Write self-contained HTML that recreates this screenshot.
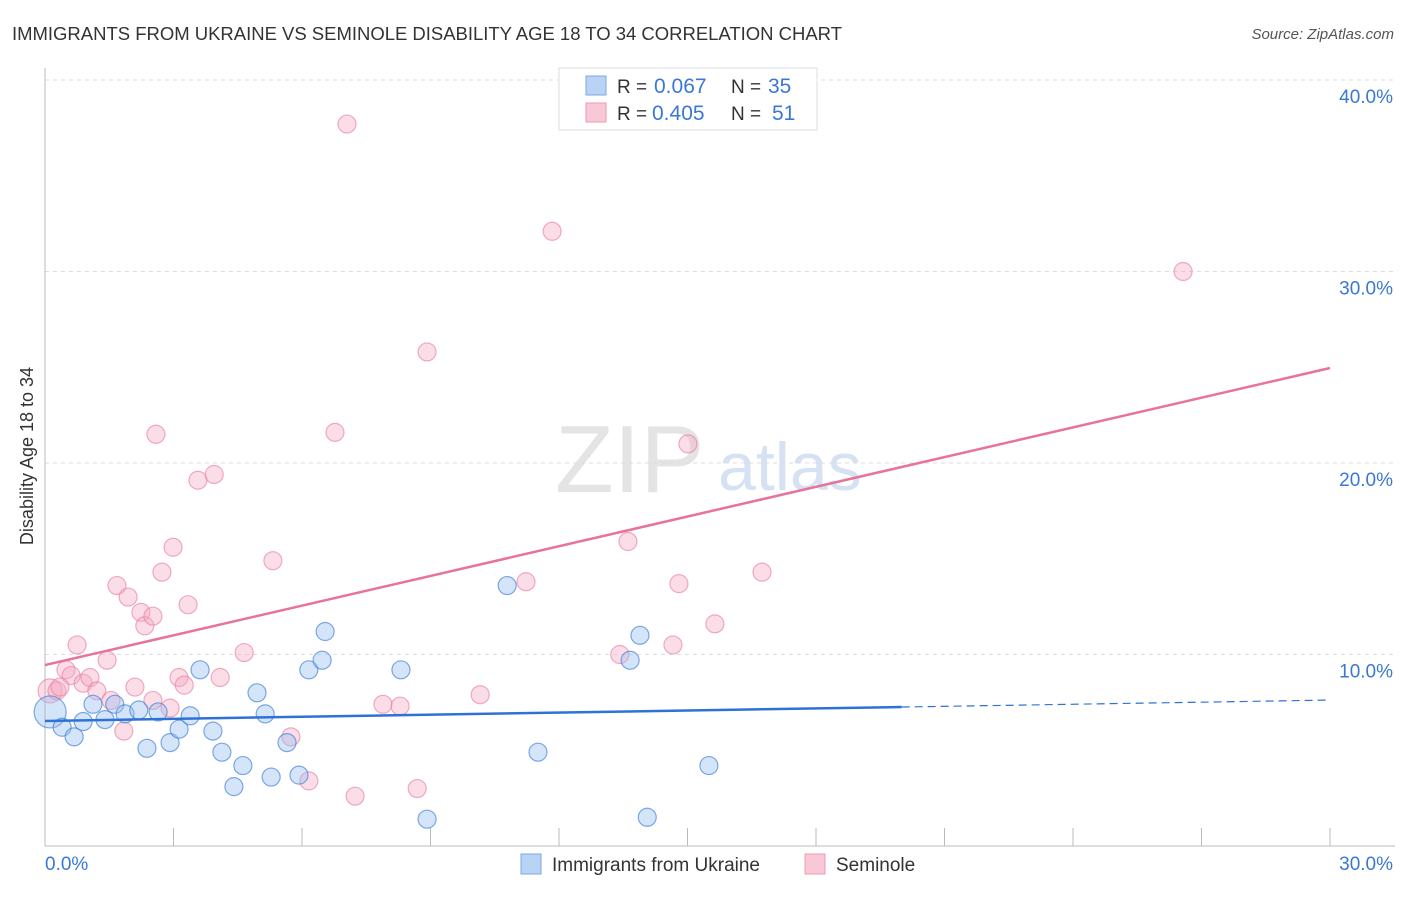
<!DOCTYPE html>
<html><head><meta charset="utf-8"><style>
body{margin:0;background:#fff;font-family:"Liberation Sans",sans-serif;}
svg text{font-family:"Liberation Sans",sans-serif;}
</style></head><body>
<svg id="chart" width="1406" height="892">
<text x="12" y="40" font-size="18.5" fill="#333" textLength="830">IMMIGRANTS FROM UKRAINE VS SEMINOLE DISABILITY AGE 18 TO 34 CORRELATION CHART</text>
<text x="1394" y="39" font-size="15" fill="#555" font-style="italic" text-anchor="end">Source: ZipAtlas.com</text>
<text x="33" y="456" font-size="18" fill="#333" text-anchor="middle" transform="rotate(-90 33 456)">Disability Age 18 to 34</text>
<text x="555" y="492" font-size="96" fill="#e4e4e4" font-family="Liberation Serif">ZIP</text>
<text x="718" y="490" font-size="68" fill="#d6e2f3">atlas</text>
<g id="grid"></g><g id="pts"></g><g id="lines"></g>
<g>
<rect x="559" y="68" width="258" height="62" fill="#fff" stroke="#ddd"/>
<rect x="586" y="76" width="20" height="19" fill="#b9d3f5" stroke="#7aa7e6"/>
<rect x="586" y="103" width="20" height="19" fill="#f9c8d6" stroke="#ee99b2"/>
<text x="617" y="93" font-size="19" fill="#333">R =</text>
<text x="654" y="93" font-size="21" fill="#3a78d4">0.067</text>
<text x="731" y="93" font-size="19" fill="#333">N =</text>
<text x="768" y="93" font-size="21" fill="#3a78d4">35</text>
<text x="617" y="120" font-size="19" fill="#333">R =</text>
<text x="652" y="120" font-size="21" fill="#3a78d4">0.405</text>
<text x="731" y="120" font-size="19" fill="#333">N =</text>
<text x="772" y="120" font-size="21" fill="#3a78d4">51</text>
</g>
<g>
<rect x="521" y="854" width="20" height="20" fill="#b9d3f5" stroke="#7aa7e6"/>
<text x="552" y="871" font-size="19" fill="#333">Immigrants from Ukraine</text>
<rect x="805" y="854" width="20" height="20" fill="#f9c8d6" stroke="#ee99b2"/>
<text x="836" y="871" font-size="19" fill="#333">Seminole</text>
</g>
</svg>
<script>
const yTicks=[10,20,30,40];
const xTickLabels=["0.0%","30.0%"];
const blueX=[0.12,0.40,0.68,0.89,1.12,1.40,1.63,1.87,2.19,2.38,2.64,2.92,3.13,3.39,3.62,3.92,4.13,4.41,4.62,4.95,5.14,5.28,5.65,5.93,6.16,6.47,6.54,8.31,8.92,10.79,11.51,13.66,13.89,14.06,15.50];
const blueY=[7.0,6.2,5.7,6.5,7.4,6.6,7.4,6.9,7.1,5.1,7.0,5.4,6.1,6.8,9.2,6.0,4.9,3.1,4.2,8.0,6.9,3.6,5.4,3.7,9.2,9.7,11.2,9.2,1.4,13.6,4.9,9.7,11.0,1.5,4.2];
const pinkX=[0.12,0.28,0.49,0.61,0.75,0.89,1.05,1.21,1.45,1.54,1.68,1.84,1.94,2.10,2.24,2.33,2.52,2.59,2.73,2.92,2.99,3.13,3.25,3.34,3.57,3.95,4.09,4.65,5.32,5.74,6.16,6.77,7.05,7.24,7.89,8.29,8.69,8.92,10.16,11.23,11.84,13.42,13.61,14.66,14.80,15.01,15.64,16.74,26.57,0.35,2.52];
const pinkY=[8.1,8.1,9.2,8.9,10.5,8.5,8.8,8.1,9.7,7.6,13.6,6.0,13.0,8.3,12.2,11.5,12.0,21.5,14.3,7.2,15.6,8.8,8.4,12.6,19.1,19.4,8.8,10.1,14.9,5.7,3.4,21.6,37.7,2.6,7.4,7.3,3.0,25.8,7.9,13.8,32.1,10.0,15.9,10.5,13.7,21.0,11.6,14.3,30.0,8.3,7.6];
const blueTrend=[6.53,7.62];
const pinkTrend=[9.45,24.96];
const X0=45,X1=1330,Y0=846,PPU=19.15;
const sx=v=>X0+(X1-X0)*v/30, sy=v=>Y0-v*PPU;
const NS="http://www.w3.org/2000/svg";
function mk(tag,attrs,parent){const e=document.createElementNS(NS,tag);for(const k in attrs)e.setAttribute(k,attrs[k]);parent.appendChild(e);return e;}
const grid=document.getElementById('grid');
yTicks.forEach(t=>{
 const l=mk('line',{x1:45,x2:1395,y1:sy(t),y2:sy(t),stroke:'#ddd','stroke-dasharray':'4,4'},grid);
 
 
 const tx=mk('text',{x:1393,y:sy(t)+23,'font-size':19,fill:'#3a78d4','text-anchor':'end'},grid);
 tx.textContent=t.toFixed(1)+'%';
 
 
});
const ax=mk('line',{x1:45,x2:45,y1:68,y2:846,stroke:'#bbb'},grid);


const bx=mk('line',{x1:45,x2:1395,y1:846,y2:846,stroke:'#bbb'},grid);


for(let i=0;i<=10;i++){
 const t=mk('line',{x1:sx(i*3),x2:sx(i*3),y1:828,y2:846,stroke:'#bbb'},grid);
 
 
}
const xl0=mk('text',{x:45,y:870,'font-size':19,fill:'#3a78d4'},grid);xl0.textContent=xTickLabels[0];


const xl1=mk('text',{x:1393,y:870,'font-size':19,fill:'#3a78d4','text-anchor':'end'},grid);xl1.textContent=xTickLabels[1];


const pts=document.getElementById('pts');
pinkX.forEach((x,i)=>{
 const c=mk('circle',{cx:sx(x),cy:sy(pinkY[i]),r:i===0?12:9,fill:'rgba(246,170,195,0.4)',stroke:'rgba(232,120,155,0.6)','stroke-width':1.2},pts);
 
 
});
blueX.forEach((x,i)=>{
 const c=mk('circle',{cx:sx(x),cy:sy(blueY[i]),r:i===0?16:9,fill:'rgba(150,190,240,0.4)',stroke:'rgba(60,125,215,0.65)','stroke-width':1.2},pts);
 
 
});
const lines=document.getElementById('lines');
const pl=mk('line',{x1:sx(0),y1:sy(pinkTrend[0]),x2:sx(30),y2:sy(pinkTrend[1]),stroke:'#e8729a','stroke-width':2.5},lines);


const bAt=x=>blueTrend[0]+(blueTrend[1]-blueTrend[0])*x/30;
const bl=mk('line',{x1:sx(0),y1:sy(bAt(0)),x2:sx(20),y2:sy(bAt(20)),stroke:'#2f72d6','stroke-width':2.5},lines);


const bd=mk('line',{x1:sx(20),y1:sy(bAt(20)),x2:sx(30),y2:sy(bAt(30)),stroke:'#2f72d6','stroke-width':1.2,'stroke-dasharray':'8,5'},lines);


</script>
</body></html>
